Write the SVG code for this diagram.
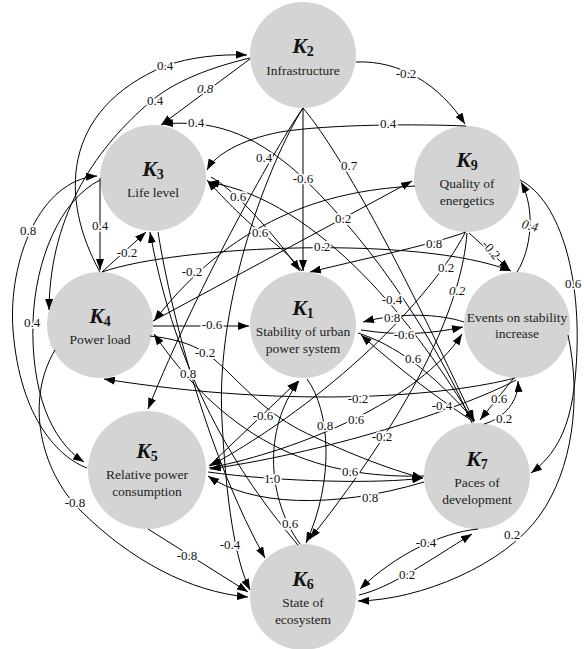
<svg xmlns="http://www.w3.org/2000/svg" width="584" height="649" viewBox="0 0 584 649">
<style>
.n{fill:#d4d4d4;stroke:none}
.k{font-family:"Liberation Serif","Times New Roman",serif;font-size:22px;font-weight:bold;font-style:italic;text-anchor:middle;fill:#111}
.s{font-size:14px;font-style:normal}
.t{font-family:"Liberation Serif","Times New Roman",serif;font-size:13.5px;text-anchor:middle;fill:#222}
.c path{fill:none;stroke:#000;stroke-width:1;marker-end:url(#a)}
.c path.r{marker-end:none;marker-start:url(#a)}
.e{font-family:"Liberation Serif","Times New Roman",serif;font-size:13px;text-anchor:middle;fill:#111;stroke:#fff;stroke-width:3.5px;paint-order:stroke;stroke-linejoin:round}
.i{font-style:italic}
</style>
<defs>
<marker id="a" viewBox="0 0 11 8" refX="11" refY="4" markerWidth="11" markerHeight="8" markerUnits="userSpaceOnUse" orient="auto-start-reverse"><path d="M0,0 L11,4 L0,8 Z" fill="#000"/></marker>
</defs>
<g id="nodes">
<g id="K2"><circle class="n" cx="303" cy="55" r="53"/><text class="k" x="303" y="53">K<tspan class="s" dy="3">2</tspan></text><text class="t" x="303" y="75">Infrastructure</text></g>
<g id="K3"><circle class="n" cx="153" cy="178" r="53"/><text class="k" x="153" y="176">K<tspan class="s" dy="3">3</tspan></text><text class="t" x="153" y="197">Life level</text></g>
<g id="K9"><circle class="n" cx="467" cy="179" r="53"/><text class="k" x="467" y="167">K<tspan class="s" dy="3">9</tspan></text><text class="t" x="467" y="188">Quality of</text><text class="t" x="467" y="205">energetics</text></g>
<g id="K4"><circle class="n" cx="100" cy="325" r="53"/><text class="k" x="100" y="323">K<tspan class="s" dy="3">4</tspan></text><text class="t" x="100" y="344">Power load</text></g>
<g id="K1"><circle class="n" cx="303" cy="325" r="53"/><text class="k" x="303" y="315">K<tspan class="s" dy="3">1</tspan></text><text class="t" x="303" y="336">Stability of urban</text><text class="t" x="303" y="353">power system</text></g>
<g id="K8"><circle class="n" cx="517" cy="325" r="53"/><text class="t" x="517" y="322">Events on stability</text><text class="t" x="517" y="338">increase</text></g>
<g id="K5"><circle class="n" cx="147" cy="470" r="59"/><text class="k" x="147" y="458">K<tspan class="s" dy="3">5</tspan></text><text class="t" x="147" y="479">Relative power</text><text class="t" x="147" y="496">consumption</text></g>
<g id="K7"><circle class="n" cx="477" cy="476" r="53"/><text class="k" x="477" y="466">K<tspan class="s" dy="3">7</tspan></text><text class="t" x="477" y="487">Paces of</text><text class="t" x="477" y="504">development</text></g>
<g id="K6"><circle class="n" cx="303" cy="597" r="53"/><text class="k" x="303" y="586">K<tspan class="s" dy="3">6</tspan></text><text class="t" x="303" y="607">State of</text><text class="t" x="303" y="624">ecosystem</text></g>
</g>
<g id="connectors" class="c">
<path d="M100,272 C60,200 60,110 165,66 C190,57 220,54 247,55"/>
<path d="M250,58 C200,70 170,85 150,102 C100,145 50,210 49,310"/>
<path d="M250,59 L161,125"/>
<path d="M472,423 C440,350 380,250 300,175 C250,130 210,120 162,124"/>
<path d="M356,62 C400,60 440,85 465,124"/>
<path d="M466,126 C420,124 330,124 280,132 C240,140 215,155 207,170"/>
<path d="M303,108 C280,140 200,280 148,409"/>
<path d="M303,108 C270,160 215,300 222,420 C226,500 235,560 250,590"/>
<path d="M303,108 L303,271"/>
<path d="M303,108 C330,140 380,220 474,421"/>
<path d="M211,177 C235,190 275,235 300,271"/>
<path class="r" d="M207,180 C225,200 250,225 262,233 C280,247 292,258 302,271"/>
<path d="M100,178 L100,270"/>
<path d="M102,272 L146,232"/>
<path d="M415,186 C340,190 240,210 154,321"/>
<path d="M102,272 C180,245 420,235 511,271"/>
<path d="M153,321 L412,181"/>
<path d="M466,232 C430,245 380,255 310,272"/>
<path d="M465,233 C430,300 330,400 210,466"/>
<path d="M467,233 C462,300 420,400 310,539"/>
<path d="M469,233 L510,270"/>
<path d="M517,272 C531,250 536,210 521,182"/>
<path d="M520,180 C560,200 585,280 575,380 C570,430 555,455 531,473"/>
<path d="M568,335 C582,400 572,470 540,515 C505,565 420,600 358,601"/>
<path d="M513,379 L480,420"/>
<path d="M484,424 C505,418 519,400 518,381"/>
<path d="M464,322 C440,314 400,312 363,322"/>
<path d="M361,330 C400,336 430,334 463,327"/>
<path d="M358,333 C395,345 430,370 475,421"/>
<path d="M473,421 C420,330 320,200 208,182"/>
<path d="M474,422 C440,400 400,370 361,335"/>
<path d="M153,326 L249,326"/>
<path d="M150,336 C185,340 200,348 215,360 C240,382 262,410 300,430 C340,450 390,470 423,478"/>
<path d="M209,466 L298,381"/>
<path d="M158,232 C172,320 210,460 265,558"/>
<path d="M298,545 C260,500 180,400 150,232"/>
<path d="M300,544 C268,500 262,430 299,381"/>
<path d="M307,379 C330,410 335,480 306,543"/>
<path d="M209,468 C300,450 420,400 462,334"/>
<path d="M515,378 C450,395 300,410 104,379"/>
<path d="M208,472 C280,482 380,484 423,478"/>
<path d="M424,476 C340,478 240,460 154,334"/>
<path d="M424,482 C330,510 250,505 208,476"/>
<path d="M516,380 C470,405 340,450 210,469"/>
<path d="M478,529 C440,533 395,555 360,589"/>
<path d="M359,595 C390,588 430,560 472,534"/>
<path d="M148,529 L248,592"/>
<path d="M55,350 C25,400 40,470 80,510 C130,560 190,592 248,597"/>
<path d="M87,468 C60,458 20,420 13,330 C8,260 40,180 97,176"/>
<path d="M100,180 C60,200 35,260 33,322 C31,390 50,440 84,462"/>
</g>
<g id="labels">
<text class="e" x="165" y="70">0.4</text>
<text class="e" x="155" y="105">0.4</text>
<text class="e i" x="205" y="93">0.8</text>
<text class="e" x="196" y="127">0.4</text>
<text class="e" x="406" y="78">-0.2</text>
<text class="e" x="388" y="128">0.4</text>
<text class="e" x="264" y="162">0.4</text>
<text class="e" x="230" y="549">-0.4</text>
<text class="e" x="303" y="183">-0.6</text>
<text class="e" x="349" y="170">0.7</text>
<text class="e" x="238" y="201">0.6</text>
<text class="e" x="260" y="237">0.6</text>
<text class="e" x="100" y="230">0.4</text>
<text class="e" x="127" y="257">-0.2</text>
<text class="e" x="192" y="276">-0.2</text>
<text class="e" x="322" y="251">0.2</text>
<text class="e" x="343" y="223">0.2</text>
<text class="e" x="434" y="248">0.8</text>
<text class="e" x="446" y="272">0.2</text>
<text class="e i" x="457" y="295">0.2</text>
<text class="e" transform="translate(491,250) rotate(50)" x="0" y="4">-0.2</text>
<text class="e i" transform="translate(530,226) rotate(15)" x="0" y="4">0.4</text>
<text class="e" x="573" y="288">0.6</text>
<text class="e" x="512" y="539">0.2</text>
<text class="e" x="499" y="403">0.6</text>
<text class="e" x="504" y="423">0.2</text>
<text class="e" x="392" y="322">0.8</text>
<text class="e" x="404" y="339">-0.6</text>
<text class="e" x="413" y="363">0.6</text>
<text class="e" x="392" y="304">-0.4</text>
<text class="e" x="442" y="410">-0.4</text>
<text class="e" x="212" y="329">-0.6</text>
<text class="e" x="205" y="357">-0.2</text>
<text class="e" x="263" y="420">-0.6</text>
<text class="e" x="188" y="378">0.8</text>
<text class="e" x="290" y="528">0.6</text>
<text class="e" x="325" y="430">0.8</text>
<text class="e" x="356" y="424">0.6</text>
<text class="e" x="358" y="403">-0.2</text>
<text class="e" x="272" y="483">1.0</text>
<text class="e" x="350" y="476">0.6</text>
<text class="e" x="370" y="502">0.8</text>
<text class="e" x="382" y="441">-0.2</text>
<text class="e" x="426" y="547">-0.4</text>
<text class="e" x="407" y="579">0.2</text>
<text class="e" x="187" y="560">-0.8</text>
<text class="e" x="75" y="507">-0.8</text>
<text class="e" x="28" y="235">0.8</text>
<text class="e" x="32" y="327">0.4</text>
</g>
</svg>
